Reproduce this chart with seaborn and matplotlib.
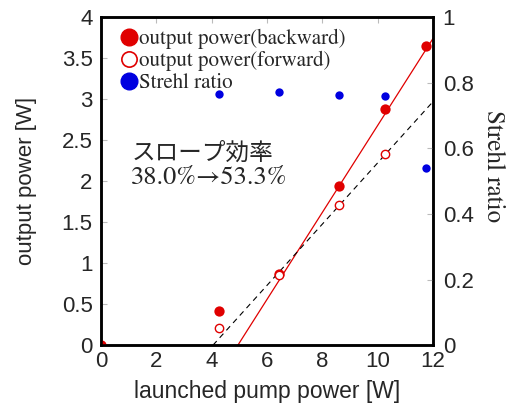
import matplotlib
matplotlib.use("Agg")
import matplotlib.pyplot as plt
import seaborn as sns
from matplotlib.lines import Line2D

sns.set_style("white")
plt.rcParams['font.family'] = ['Liberation Sans', 'DejaVu Sans']

# data
pump = [0, 4.25, 6.45, 8.6, 10.25, 11.75]
power_backward = [0, 0.42, 0.87, 1.94, 2.88, 3.65]
pump_fwd = [4.25, 6.45, 8.6, 10.25]
power_forward = [0.21, 0.86, 1.71, 2.33]
pump_strehl = [4.25, 6.45, 8.6, 10.25, 11.75]
strehl = [0.765, 0.772, 0.762, 0.76, 0.54]
fit_bwd_x = [4.95, 12.0]
fit_bwd_y = [0.0, 3.74]
fit_fwd_x = [4.05, 12.0]
fit_fwd_y = [0.0, 2.97]

red = '#e00000'
blue = '#0000e0'
serif = ['STIXGeneral', 'Liberation Serif', 'Noto Sans CJK JP', 'DejaVu Serif']

fig = plt.figure(figsize=(5.07, 4.09), dpi=100)
ax = fig.add_axes([0.199, 0.156, 0.655, 0.802])
ax2 = ax.twinx()

sns.lineplot(x=fit_bwd_x, y=fit_bwd_y, ax=ax, color=red, lw=0.9)
sns.lineplot(x=fit_fwd_x, y=fit_fwd_y, ax=ax, color='black', lw=0.8, linestyle=(0, (5, 4)))
sns.scatterplot(x=pump, y=power_backward, ax=ax, color=red, s=55, edgecolor=red, linewidth=0, zorder=5)
sns.scatterplot(x=pump_fwd, y=power_forward, ax=ax, facecolor='white', s=36, edgecolor=red, linewidth=1.0, zorder=5)
sns.scatterplot(x=pump_strehl, y=strehl, ax=ax2, color=blue, s=36, edgecolor=blue, linewidth=0, zorder=5)

ax.set_xlim(0, 12)
ax.set_ylim(0, 4)
ax2.set_ylim(0, 1)
ax.set_xticks(range(0, 13, 2))
ax.set_yticks([0, 0.5, 1, 1.5, 2, 2.5, 3, 3.5, 4])
ax.set_yticklabels(['0', '0.5', '1', '1.5', '2', '2.5', '3', '3.5', '4'])
ax2.set_yticks([0, 0.2, 0.4, 0.6, 0.8, 1])
ax2.set_yticklabels(['0', '0.2', '0.4', '0.6', '0.8', '1'])

for a in (ax, ax2):
    a.tick_params(direction='in', length=4, width=0.8, color='#bbbbbb', labelsize=16)
    for sp in a.spines.values():
        sp.set_linewidth(1.8)
        sp.set_color('black')
ax.tick_params(axis='x', top=True, pad=4)
ax.tick_params(axis='y', pad=6)
ax2.tick_params(axis='y', pad=7)

ax.set_xlabel('launched pump power [W]', fontsize=16.5)
ax.xaxis.set_label_coords(0.5, -0.105)
ax.set_ylabel('output power [W]', fontsize=16)
ax.yaxis.set_label_coords(-0.192, 0.5)
ax2.set_ylabel('Strehl ratio', fontsize=18, rotation=270, family=serif, va='center')
ax2.yaxis.set_label_coords(1.18, 0.546)

handles = [
    Line2D([], [], marker='o', linestyle='none', markerfacecolor=red, markeredgecolor=red, markersize=12),
    Line2D([], [], marker='o', linestyle='none', markerfacecolor='white', markeredgecolor=red, markeredgewidth=1.2, markersize=11),
    Line2D([], [], marker='o', linestyle='none', markerfacecolor=blue, markeredgecolor=blue, markersize=12),
]
labels = ['output power(backward)', 'output power(forward)', 'Strehl ratio']
leg = ax.legend(handles, labels, loc='upper left', frameon=False, handletextpad=-0.3,
                handlelength=1.6, labelspacing=0.1, borderaxespad=0.35, borderpad=0.2,
                prop={'family': serif, 'size': 15})

ax.text(1.1, 2.33, 'スロープ効率', fontsize=17, va='center', ha='left', family=serif)
ax.text(1.08, 2.035, '38.0%→53.3%', fontsize=19, va='center', ha='left', family=serif)

fig.savefig('out.png', dpi=100)
